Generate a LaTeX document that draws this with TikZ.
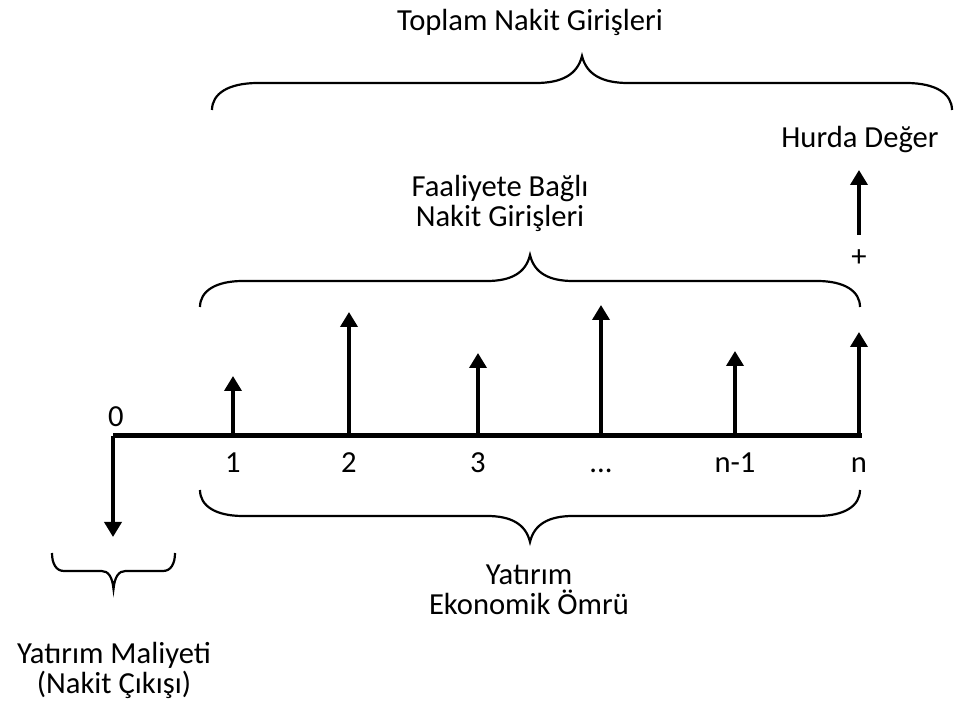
\documentclass[tikz,border=0pt]{standalone}
\usepackage{fontspec}
\setmainfont{Carlito}
\usetikzlibrary{arrows.meta}

\newcommand{\tdots}{...}
% curly brace: left x, right x, end y, depth (signed), curl width
\newcommand{\cbrace}[5]{%
  \draw[bracket] (#1,#3)
    .. controls (#1,{#3+0.6*(#4)}) and ({#1+0.35*#5},{#3+(#4)}) .. ({#1+#5},{#3+(#4)})
    -- ({(#1+#2)/2-#5},{#3+(#4)})
    .. controls ({(#1+#2)/2-0.45*#5},{#3+(#4)}) and ({(#1+#2)/2-0.1*#5},{#3+1.3*(#4)}) .. ({(#1+#2)/2},{#3+2*(#4)})
    .. controls ({(#1+#2)/2+0.1*#5},{#3+1.3*(#4)}) and ({(#1+#2)/2+0.45*#5},{#3+(#4)}) .. ({(#1+#2)/2+#5},{#3+(#4)})
    -- ({#2-#5},{#3+(#4)})
    .. controls ({#2-0.35*#5},{#3+(#4)}) and (#2,{#3+0.6*(#4)}) .. (#2,#3);}

\begin{document}
\begin{tikzpicture}[x=0.5pt,y=0.5pt,
  txt/.style={font=\fontsize{15.3}{15}\selectfont, align=center, inner sep=0pt},
  axisline/.style={line width=2.5pt},
  flow/.style={line width=1.8pt, -{Triangle[width=8.5pt,length=7.5pt]}},
  bracket/.style={line width=1.1pt}]
\useasboundingbox (0,0) rectangle (955,702);

% time axis
\coordinate (t0) at (113,266);
\coordinate (tend) at (862,266);
\draw[axisline] (t0) -- (tend);
\node[txt, anchor=base] (zero) at (116,275) {0};

% investment outflow
\coordinate (out) at (113,165);
\draw[flow] (t0) -- (out);

% operating inflows
\foreach \x/\top/\lab [count=\i] in {233/326/1, 349/390/2, 478/349/3, 601/397/\tdots, 735/351/n-1, 859/370/n}{
  \coordinate (b\i) at (\x,266);
  \coordinate (h\i) at (\x,\top);
  \draw[flow] (b\i) -- (h\i);
  \node[txt, anchor=base] (l\i) at (\x,229) {\lab};
}

% salvage value
\node[txt] (plus) at (859,444) {+};
\coordinate (s0) at (859,467);
\coordinate (s1) at (859,532);
\draw[flow] (s0) -- (s1);
\node[txt] (hurda) at (860,562) {Hurda Değer};

% braces
\cbrace{212}{952}{592}{27}{46}
\cbrace{200}{860}{395}{26}{43}
\cbrace{200}{860}{212}{-26}{43}
\cbrace{52}{175}{149}{-18}{12}

\node[txt] (toplam) at (530,680) {Toplam Nakit Girişleri};
\node[txt] (faaliyet) at (500,499) {Faaliyete Bağlı\\Nakit Girişleri};
\node[txt] (omur) at (529,112) {Yatırım\\Ekonomik Ömrü};
\node[txt] (maliyet) at (114,32) {Yatırım Maliyeti\\(Nakit Çıkışı)};
\end{tikzpicture}
\end{document}
